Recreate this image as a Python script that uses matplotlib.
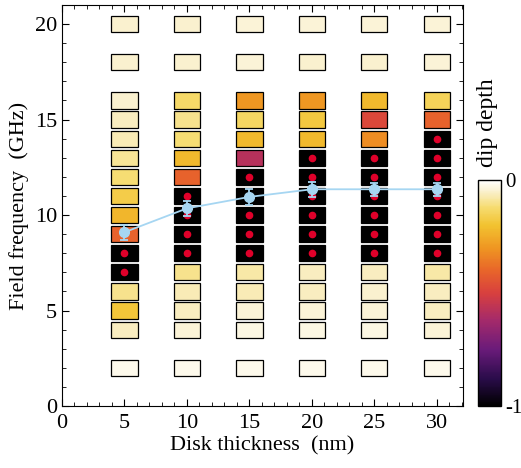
import numpy as np
import matplotlib
matplotlib.use("Agg")
import matplotlib.pyplot as plt
from matplotlib.colors import LinearSegmentedColormap, Normalize
from matplotlib.cm import ScalarMappable
from matplotlib.ticker import MultipleLocator

plt.rcParams['font.family'] = ['Liberation Serif', 'DejaVu Serif']
plt.rcParams['font.size'] = 16

# data
thickness = [5, 10, 15, 20, 25, 30]
freqs = [2, 4, 5, 6, 7, 8, 9, 10, 11, 12, 13, 14, 15, 16, 18, 20]
# dip depth per thickness column, one value per freq (same order as freqs)
dip_5 = [-0.02, -0.06, -0.19, -0.10, -1, -1, -0.41, -0.23, -0.17, -0.12, -0.09, -0.07, -0.06, -0.05, -0.05, -0.05]
dip_10 = [-0.02, -0.04, -0.06, -0.07, -0.10, -1, -1, -1, -1, -0.41, -0.22, -0.12, -0.10, -0.13, -0.05, -0.05]
dip_15 = [-0.02, -0.03, -0.04, -0.07, -0.08, -1, -1, -1, -1, -1, -0.58, -0.22, -0.14, -0.30, -0.04, -0.04]
dip_20 = [-0.02, -0.03, -0.04, -0.06, -0.06, -1, -1, -1, -1, -1, -1, -0.22, -0.18, -0.30, -0.05, -0.04]
dip_25 = [-0.02, -0.03, -0.04, -0.05, -0.06, -1, -1, -1, -1, -1, -1, -0.32, -0.48, -0.22, -0.05, -0.04]
dip_30 = [-0.02, -0.04, -0.06, -0.06, -0.08, -1, -1, -1, -1, -1, -1, -1, -0.41, -0.15, -0.04, -0.04]
dips = [dip_5, dip_10, dip_15, dip_20, dip_25, dip_30]

# resonance frequency vs thickness
res_freq = [9.1, 10.35, 10.95, 11.35, 11.35, 11.35]
res_err = [0.4, 0.4, 0.4, 0.4, 0.35, 0.35]

cmap = LinearSegmentedColormap.from_list("dip", [
    (0.0, "#000000"), (0.12, "#2a0c4a"), (0.25, "#6a1b7a"), (0.38, "#a52a6a"),
    (0.5, "#d8403e"), (0.6, "#e8652a"), (0.7, "#ef9622"), (0.8, "#f2c230"),
    (0.88, "#f6dc70"), (0.95, "#faf0cc"), (1.0, "#ffffff")])
norm = Normalize(-1, 0)

fig = plt.figure(figsize=(5.21, 4.68), dpi=100)
ax = fig.add_axes([62/521, 62/468, 401/521, 401/468])

cell_w, cell_h = 2.1, 0.85
for t, col in zip(thickness, dips):
    col = np.array(col)
    f = np.array(freqs)
    ax.bar([t]*len(f), cell_h, bottom=f - cell_h/2, width=cell_w,
           color=cmap(norm(col)), edgecolor="black", linewidth=0.9, zorder=2)
    strong = col <= -0.99
    ax.plot([t]*strong.sum(), f[strong], "o", color="#e0002a", ms=4.5, zorder=3)

ax.errorbar(thickness, res_freq, yerr=res_err, fmt="-o", color="#a6d6f2",
            ms=7, lw=1.3, elinewidth=1.3, capsize=3, capthick=1.3, zorder=4)

ax.set_xlim(0, 32.1)
ax.set_ylim(0, 21)
ax.xaxis.set_major_locator(MultipleLocator(5))
ax.xaxis.set_minor_locator(MultipleLocator(1))
ax.yaxis.set_major_locator(MultipleLocator(5))
ax.yaxis.set_minor_locator(MultipleLocator(1))
ax.tick_params(which="both", direction="in", top=True, right=True)
ax.tick_params(which="major", length=5)
ax.tick_params(which="minor", length=3)
ax.tick_params(axis="x", pad=6)
ax.set_xlabel("Disk thickness  (nm)", labelpad=2)
ax.set_ylabel("Field frequency  (GHz)", labelpad=4)

cax = fig.add_axes([478/521, 62/468, 23/521, 226/468])
cb = fig.colorbar(ScalarMappable(norm=norm, cmap=cmap), cax=cax, ticks=[-1, 0])
cb.ax.set_yticklabels(["-1", "0"])
cb.ax.tick_params(length=0, pad=3, labelsize=15)
cb.outline.set_linewidth(1.0)
fig.text(487/521, (468-123)/468, "dip depth", rotation=90, ha="center", va="center", fontsize=17)

fig.savefig("out.png", dpi=100)
